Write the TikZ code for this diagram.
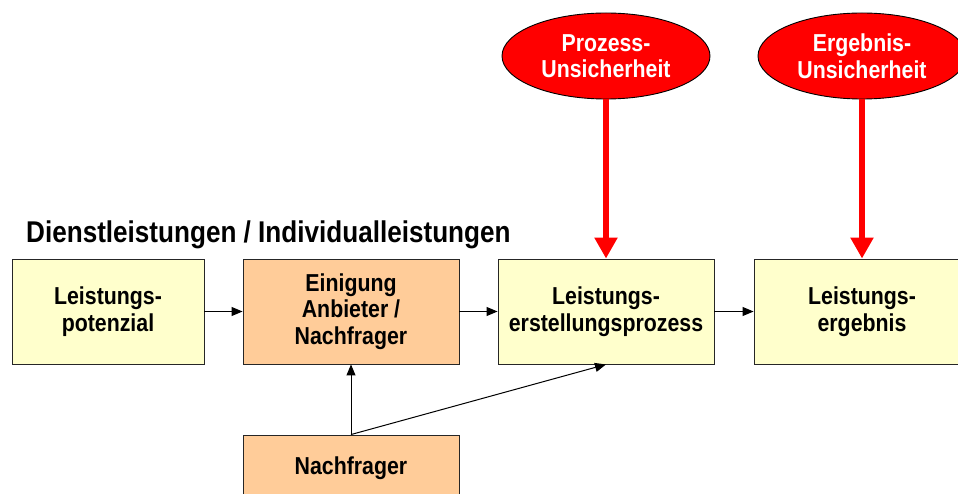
\documentclass[tikz,border=0pt]{standalone}
\usepackage{fontspec}
\setmainfont[FakeStretch=0.87]{Liberation Sans}
\usetikzlibrary{shapes.geometric,arrows.meta}
\definecolor{boxyellow}{HTML}{FFFFCC}
\definecolor{boxorange}{HTML}{FFCC99}
\definecolor{ellred}{HTML}{FF0000}
\newcommand{\boxfnt}{\fontsize{24.5}{26.5}\selectfont\bfseries}
\newcommand{\titlefnt}{\fontsize{30}{32}\selectfont\bfseries}
\tikzset{
  stdbox/.style={draw=black!85, line width=0.9pt, minimum width=216pt, minimum height=105pt,
    align=center, font=\boxfnt, inner sep=0pt, text=black},
  yellowbox/.style={stdbox, fill=boxyellow},
  orangebox/.style={stdbox, fill=boxorange},
  uncert/.style={ellipse, draw=black, line width=0.9pt, fill=ellred, minimum width=208pt,
    minimum height=86pt, inner sep=0pt, align=center, font=\boxfnt, text=white},
  blkarrow/.style={line width=1pt, -{Triangle[length=11pt,width=9pt]}},
  redarrow/.style={line width=6.5pt, ellred, -{Triangle[length=21pt,width=22pt]}},
}
\begin{document}
\begin{tikzpicture}[x=1pt,y=-1pt]
\useasboundingbox (0,0) rectangle (958,494);
\clip (0,0) rectangle (958,494);
\fill[white] (0,0) rectangle (958,494);

\node[anchor=base west, inner sep=0pt, font=\titlefnt] (title) at (26,243) {Dienstleistungen / Individualleistungen};

\node[yellowbox, minimum width=192pt] (b1) at (108,311.5) {Leistungs-\\potenzial};
\node[orangebox] (b2) at (351,311.5) {Einigung\\Anbieter /\\Nachfrager};
\node[yellowbox] (b3) at (606,311.5) {Leistungs-\\erstellungsprozess};
\node[yellowbox] (b4) at (862,311.5) {Leistungs-\\ergebnis};
\node[orangebox, minimum height=66pt] (nf) at (351,468) {Nachfrager};

\node[uncert] (e1) at (606,56) {Prozess-\\Unsicherheit};
\node[uncert] (e2) at (862,56) {Ergebnis-\\Unsicherheit};

\draw[blkarrow] (b1.east) -- (b2.west);
\draw[blkarrow] (b2.east) -- (b3.west);
\draw[blkarrow] (b3.east) -- (b4.west);
\draw[blkarrow] (nf.north) -- (b2.south);
\draw[blkarrow] (nf.north) -- (b3.south);

\draw[redarrow] (e1.south) -- (b3.north);
\draw[redarrow] (e2.south) -- (b4.north);
\end{tikzpicture}
\end{document}
